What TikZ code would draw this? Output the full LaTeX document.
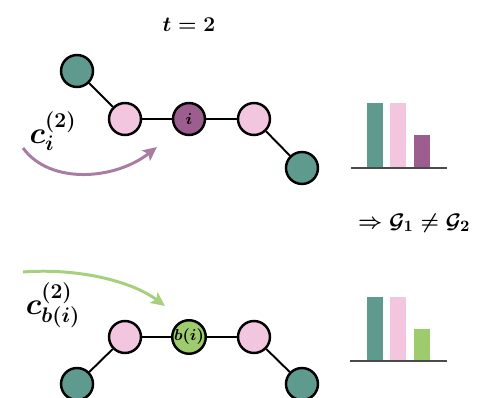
\documentclass[tikz,border=0pt]{standalone}
\usepackage{tikz}
\usetikzlibrary{arrows.meta, positioning}
\definecolor{nodeteal}{HTML}{5F9A8E}
\definecolor{nodepink}{HTML}{F2C6DF}
\definecolor{nodeplum}{HTML}{9B5E8F}
\definecolor{nodegreen}{HTML}{9DCB6E}
\definecolor{arrplum}{HTML}{A97CA4}
\definecolor{arrgreen}{HTML}{A6D07C}
\definecolor{axisgray}{HTML}{4A4A4A}
\tikzset{
  vert/.style={
    circle, draw=black, line width=1.4pt, fill=#1,
    minimum size=0.64cm, inner sep=0pt,
    font=\small\boldmath
  },
  link/.style={line width=1.1pt},
  flow/.style={-{Stealth[length=0.28cm, width=0.26cm, inset=0.06cm]},
    line width=1.7pt, draw=#1},
  lbl/.style={font=\LARGE\boldmath}
}

\begin{document}
\begin{tikzpicture}[x=0.02cm, y=-0.02cm, on grid]
  \useasboundingbox (0,0) rectangle (477,398);

  % time step
  \node[font=\large\boldmath] (tlbl) at (189,25) {$t=2$};

  % first graph
  \node[vert=nodeplum] (ti) at (189,119) {$i$};
  \node[vert=nodepink, left=1.28cm of ti] (tpl) {};
  \node[vert=nodepink, right=1.30cm of ti] (tpr) {};
  \node[vert=nodeteal, above left=0.96cm and 0.96cm of tpl] (ttl) {};
  \node[vert=nodeteal, below right=0.98cm and 0.96cm of tpr] (ttr) {};
  \foreach \a/\b in {ttl/tpl, tpl/ti, ti/tpr, tpr/ttr}{%
    \draw[link] (\a) -- (\b);}

  % second graph
  \node[vert=nodegreen] (bi) at (189,337) {$b(i)$};
  \node[vert=nodepink, left=1.28cm of bi] (bpl) {};
  \node[vert=nodepink, right=1.30cm of bi] (bpr) {};
  \node[vert=nodeteal, below left=0.94cm and 0.96cm of bpl] (btl) {};
  \node[vert=nodeteal, below right=0.94cm and 0.96cm of bpr] (btr) {};
  \foreach \a/\b in {btl/bpl, bpl/bi, bi/bpr, bpr/btr}{%
    \draw[link] (\a) -- (\b);}

  % colour arrows
  \node[lbl] (ctop) at (53,131) {$c_i^{(2)}$};
  \coordinate (pa0) at (23,148);
  \coordinate (pa1) at (157,147);
  \draw[flow=arrplum] (pa0) .. controls (50,185) and (115,180) .. (pa1);

  \node[lbl] (cbot) at (53,305) {$c_{b(i)}^{(2)}$};
  \coordinate (ga0) at (23,272);
  \coordinate (ga1) at (165,306);
  \draw[flow=arrgreen] (ga0) .. controls (75,268) and (130,280) .. (ga1);

  % histograms
  \fill[nodeteal]  (367,103) rectangle (383,168);
  \fill[nodepink]  (390,103) rectangle (406,168);
  \fill[nodeplum]  (414,135) rectangle (430,168);
  \draw[axisgray, line width=0.8pt] (351,168) -- (447,168);

  \fill[nodeteal]  (367,297) rectangle (383,361);
  \fill[nodepink]  (390,297) rectangle (406,361);
  \fill[nodegreen] (414,329) rectangle (430,361);
  \draw[axisgray, line width=0.8pt] (350,361) -- (447,361);

  \node[font=\fontsize{12.6}{15}\selectfont\boldmath, anchor=west] (res)
    at (352,223) {$\Rightarrow \mathcal{G}_1 \neq \mathcal{G}_2$};
\end{tikzpicture}
\end{document}
